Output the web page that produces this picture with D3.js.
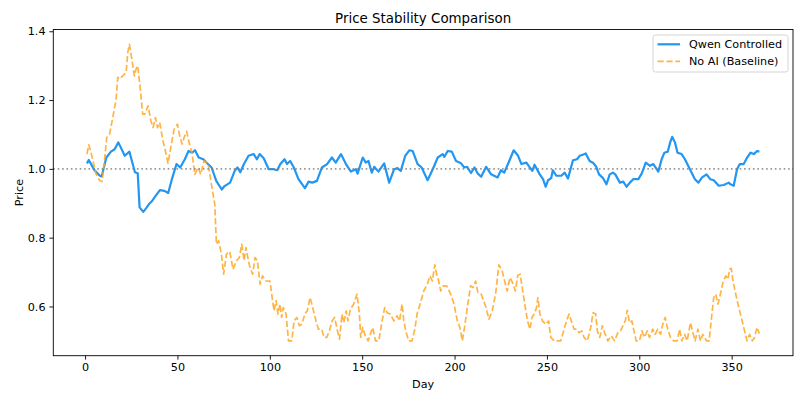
<!DOCTYPE html>
<html>
<head>
<meta charset="utf-8">
<script src="https://cdn.jsdelivr.net/npm/d3@7"></script>
<style>
  html, body { margin: 0; padding: 0; background: #fff; }
  svg { display: block; }
  text { font-family: "DejaVu Sans", sans-serif; fill: #000; }
</style>
</head>
<body>
<svg id="chart" width="806" height="403"></svg>
<script>
// ---------------- data ----------------
const title = "Price Stability Comparison";
const xLabel = "Day";
const yLabel = "Price";
const seriesNames = ["Qwen Controlled", "No AI (Baseline)"];
const xTicks = [0, 50, 100, 150, 200, 250, 300, 350];
const yTicks = [0.6, 0.8, 1.0, 1.2, 1.4];
const referenceLevel = 1.0;

const qwenDays = [1,2,5,8,9,11.5,14,16,18,21.5,24,27,28.5,29.5,31.5,33,34.5,36,38,40.5,43,45,47,49.5,51.5,54,56,58,59.5,61.5,64,66.5,68.5,71,74,75.5,78.5,81,82.5,84,86,88.5,91.3,93,94.5,96.7,99.4,102,104,105.7,108,109.3,111,113,115.5,119,121,123,125.5,128.2,131,133.6,135.7,138.5,141.2,143.9,146.6,147.5,150.3,152,153.4,155.2,156.5,158.8,161.9,164.6,167.3,169.1,170.9,173.3,175.5,177.3,180,182.2,185.4,188.2,190.9,193.6,194.5,196.3,198.5,200.8,203.5,205.3,206.8,208.9,210.8,212.6,214.4,217.1,219.8,223.3,225.1,226.9,229.6,232,234.4,236.2,238.9,240.7,242.1,243.3,246.1,247.9,249.3,250.6,252.3,253.2,255.1,257.8,259.6,261.4,264.1,266.3,267.7,269.5,271,273.1,274.9,276.7,278.2,280.4,282.2,284,285.7,287,289.5,291.3,293.1,294.9,296.7,299.5,301.3,303.5,305.8,307.6,310.3,312.1,313.6,315.4,316.7,317.8,319.3,320.7,322.9,324.7,327.4,330.1,332,334,336.4,338.4,340.3,343,345.7,348.4,349.3,351.1,352.9,354.4,356.5,358.4,360.2,362,363.8,365];
const qwenPrice = [1.016,1.026,0.997,0.98,0.978,1.033,1.05,1.057,1.077,1.038,1.05,0.99,0.987,0.888,0.875,0.885,0.897,0.905,0.92,0.938,0.936,0.93,0.97,1.014,1.004,1.028,1.052,1.047,1.054,1.033,1.028,1.014,1.004,0.965,0.94,0.95,0.96,0.994,1.004,0.99,1.014,1.038,1.043,1.028,1.043,1.031,0.999,0.999,0.996,1.014,1.028,1.014,1.023,1.004,0.97,0.944,0.963,0.96,0.965,1.004,1.014,1.033,1.018,1.043,1.014,0.992,0.999,0.986,1.033,1.018,1.023,0.989,1.006,0.992,1.016,0.96,0.999,1.002,0.994,1.038,1.054,1.052,1.014,1.004,0.967,0.999,1.033,1.043,1.035,1.052,1.05,1.023,1.016,1.004,1.006,0.988,1.004,0.986,0.977,1.006,0.984,0.975,0.996,0.989,1.023,1.054,1.038,1.014,1.018,1.004,0.994,1.012,0.984,0.97,0.948,0.967,0.973,0.996,0.98,0.98,0.989,0.972,1.025,1.028,1.038,1.041,1.045,1.023,1.018,1.006,0.984,0.973,0.955,0.984,0.989,0.984,0.96,0.963,0.948,0.96,0.97,0.97,0.986,1.018,1.009,1.014,0.992,1.028,1.047,1.05,1.077,1.093,1.077,1.047,1.043,1.028,0.999,0.97,0.96,0.975,0.984,0.97,0.967,0.951,0.953,0.96,0.955,0.951,0.999,1.014,1.014,1.033,1.047,1.043,1.052,1.05];

const baseDays = [1,2,3,4.2,6,7.8,9.2,10.5,11.7,13.2,15,16.8,17.7,18.6,20.4,22.2,23.1,24,24.9,26.7,27.6,28.5,29.8,31.2,32.3,34.1,35.6,36.8,38.1,39.2,40.4,42.2,43.5,44.9,46.4,48.2,50,51.2,52.5,53.6,55,56.1,57.9,59.4,61.2,62.6,64.4,66.6,68.4,70.2,71.1,72.3,73.8,75,76.5,78.3,80.1,81.9,83.5,84.8,86.1,87.1,88.4,89.3,90.7,92,93.3,94.7,96.1,97.9,100.1,101,102.3,103.4,104.4,105.5,106.4,107.3,108.8,110.1,111.9,113.1,114.6,116,117.3,119.1,120.3,121.8,123.2,125,126.3,128.1,129.3,130.8,132.3,133.7,135.1,136.4,137.7,139.1,140,141.3,142.3,143.6,145.4,147.2,148.5,149.2,150.3,151.7,153.2,154.4,155.7,157.2,159,160.8,162.2,163.5,165.3,167.1,168.9,170.2,171.6,172.5,173.8,175.2,177,178.5,179.7,181.5,183.3,185.3,186.7,188,189.3,190.3,191,192.5,193.9,195.7,197.9,199.7,201.5,202.9,204.2,205.4,206.9,208.7,210.1,211.4,212.6,214.4,216.8,218.6,220.4,222.2,224,225.8,227.1,228.5,230,231.3,232.9,234.2,235.5,236.9,238.3,239.5,240.8,241.9,243.1,244.4,245.1,246.2,247.6,249.4,250.9,252.1,253.9,255.7,257.5,259.3,260.6,262,263.5,264.7,266,267.4,268.9,270.1,271.9,273.7,275,276.4,277.3,278.6,280,281.2,283,284.8,286.6,288.4,289.9,291.1,292.4,293.5,294.7,296,297.1,298.3,300.1,301.4,302.8,304.3,305.5,307.3,308.6,310,311.5,312.7,314,315.4,316.9,318.7,320.5,321.8,323,324.5,325.9,327.7,329,330.2,331.7,333.1,334.4,336.4,337.8,339.1,340.3,341.4,342.6,343.9,345.3,346.8,348,348.9,349.8,350.7,352.2,353.4,355.2,357,358.3,359.7,361.2,362.4,363.7,365];
const basePrice = [1.043,1.07,1.052,1.025,0.984,0.967,0.963,1.023,1.091,1.1,1.149,1.203,1.266,1.261,1.27,1.28,1.338,1.362,1.333,1.27,1.29,1.3,1.236,1.159,1.159,1.183,1.14,1.12,1.149,1.12,1.135,1.081,1.052,1.016,1.062,1.115,1.13,1.096,1.072,1.091,1.109,1.081,1.045,0.984,1.004,0.984,1.023,1.016,0.955,0.897,0.781,0.791,0.752,0.694,0.752,0.76,0.708,0.733,0.742,0.781,0.733,0.771,0.733,0.713,0.694,0.742,0.733,0.665,0.689,0.674,0.674,0.636,0.587,0.617,0.578,0.607,0.568,0.597,0.578,0.5,0.5,0.558,0.568,0.544,0.548,0.58,0.587,0.626,0.597,0.558,0.534,0.534,0.51,0.51,0.53,0.558,0.568,0.534,0.505,0.578,0.553,0.587,0.558,0.592,0.607,0.636,0.578,0.51,0.539,0.515,0.5,0.519,0.539,0.5,0.5,0.558,0.597,0.582,0.578,0.558,0.573,0.558,0.607,0.558,0.524,0.5,0.5,0.534,0.578,0.61,0.645,0.665,0.689,0.674,0.721,0.694,0.684,0.645,0.66,0.66,0.636,0.607,0.558,0.539,0.5,0.539,0.597,0.66,0.655,0.674,0.641,0.636,0.601,0.563,0.587,0.636,0.721,0.703,0.674,0.645,0.684,0.67,0.645,0.69,0.694,0.645,0.597,0.558,0.534,0.568,0.578,0.597,0.626,0.578,0.558,0.548,0.558,0.51,0.5,0.5,0.5,0.534,0.558,0.578,0.553,0.534,0.534,0.524,0.529,0.51,0.5,0.539,0.582,0.578,0.529,0.51,0.544,0.524,0.5,0.515,0.5,0.524,0.529,0.544,0.558,0.589,0.553,0.558,0.529,0.5,0.5,0.529,0.51,0.529,0.51,0.534,0.519,0.534,0.519,0.548,0.568,0.534,0.51,0.5,0.5,0.534,0.5,0.519,0.5,0.553,0.524,0.5,0.534,0.5,0.519,0.5,0.5,0.568,0.626,0.636,0.607,0.636,0.67,0.689,0.679,0.708,0.711,0.674,0.636,0.607,0.568,0.529,0.5,0.519,0.5,0.51,0.539,0.521];

// ---------------- layout ----------------
const W = 806, H = 403;
const M = { left: 53.3, right: 13, top: 29.5, bottom: 47.3 };
const pw = W - M.left - M.right, ph = H - M.top - M.bottom;

const svg = d3.select("#chart");
const g = svg.append("g").attr("transform", `translate(${M.left},${M.top})`);

// matplotlib-like 5% margins
const allX = qwenDays.concat(baseDays);
const allY = qwenPrice.concat(basePrice);
const [x0, x1] = d3.extent(allX), [y0, y1] = d3.extent(allY);
const xm = (x1 - x0) * 0.05, ym = (y1 - y0) * 0.05;
const x = d3.scaleLinear().domain([x0 - xm, x1 + xm]).range([0, pw]);
const y = d3.scaleLinear().domain([y0 - ym, y1 + ym]).range([ph, 0]);

const line = d3.line().x(d => x(d[0])).y(d => y(d[1]));
const qwenData = qwenDays.map((d, i) => [d, qwenPrice[i]]);
const baseData = baseDays.map((d, i) => [d, basePrice[i]]);

const colBlue = "#2196F3", colOrange = "#FFA726";

g.append("path").datum(qwenData)
  .attr("d", line).attr("fill", "none")
  .attr("stroke", colBlue).attr("stroke-width", 2.2)
  .attr("stroke-linejoin", "round").attr("stroke-linecap", "butt");

g.append("path").datum(baseData)
  .attr("d", line).attr("fill", "none")
  .attr("stroke", colOrange).attr("stroke-width", 1.7)
  .attr("stroke-opacity", 0.85)
  .attr("stroke-dasharray", "6.2,2.7")
  .attr("stroke-linejoin", "round");

// reference line
g.append("line")
  .attr("x1", 0).attr("x2", pw)
  .attr("y1", y(referenceLevel)).attr("y2", y(referenceLevel))
  .attr("stroke", "#808080").attr("stroke-opacity", 0.8)
  .attr("stroke-width", 1.6).attr("stroke-dasharray", "1.6,2.8");

// axes
const xAxis = g.append("g").attr("transform", `translate(0,${ph})`)
  .call(d3.axisBottom(x).tickValues(xTicks).tickFormat(d3.format("d"))
    .tickSize(3.9).tickPadding(3.9));
const yAxis = g.append("g")
  .call(d3.axisLeft(y).tickValues(yTicks).tickFormat(d3.format(".1f"))
    .tickSize(3.9).tickPadding(3.9));
[xAxis, yAxis].forEach(a => {
  a.select(".domain").remove();
  a.selectAll(".tick line").attr("stroke", "#000").attr("stroke-width", 0.9);
  a.selectAll(".tick text").attr("font-family", "DejaVu Sans").attr("font-size", 11.2).attr("fill", "#000");
});

// spines
g.append("rect").attr("x", 0).attr("y", 0).attr("width", pw).attr("height", ph)
  .attr("fill", "none").attr("stroke", "#000").attr("stroke-width", 0.9);

// title & labels
svg.append("text").attr("x", M.left + pw / 2).attr("y", 22.8)
  .attr("text-anchor", "middle").attr("font-size", 13.4).text(title);
svg.append("text").attr("x", M.left + pw / 2).attr("y", 388)
  .attr("text-anchor", "middle").attr("font-size", 11.2).text(xLabel);
svg.append("text")
  .attr("transform", `translate(22.5,${M.top + ph / 2}) rotate(-90)`)
  .attr("text-anchor", "middle").attr("font-size", 11.2).text(yLabel);

// legend
const lg = svg.append("g").attr("transform", "translate(653,35)");
lg.append("rect").attr("x", 0).attr("y", 0).attr("width", 135).attr("height", 37)
  .attr("rx", 2.5).attr("fill", "#fff").attr("fill-opacity", 0.8)
  .attr("stroke", "#d0d0d0").attr("stroke-width", 0.9);
const legendItems = [
  { name: seriesNames[0], color: colBlue, dash: null, w: 2.2, op: 1 },
  { name: seriesNames[1], color: colOrange, dash: "6.2,2.7", w: 1.7, op: 0.85 }
];
legendItems.forEach((it, i) => {
  const cy = 9.3 + i * 17;
  lg.append("line").attr("x1", 4.5).attr("x2", 27).attr("y1", cy).attr("y2", cy)
    .attr("stroke", it.color).attr("stroke-width", it.w).attr("stroke-opacity", it.op)
    .attr("stroke-dasharray", it.dash);
  lg.append("text").attr("x", 36).attr("y", cy + 4).attr("font-size", 11.2).text(it.name);
});
</script>
</body>
</html>
